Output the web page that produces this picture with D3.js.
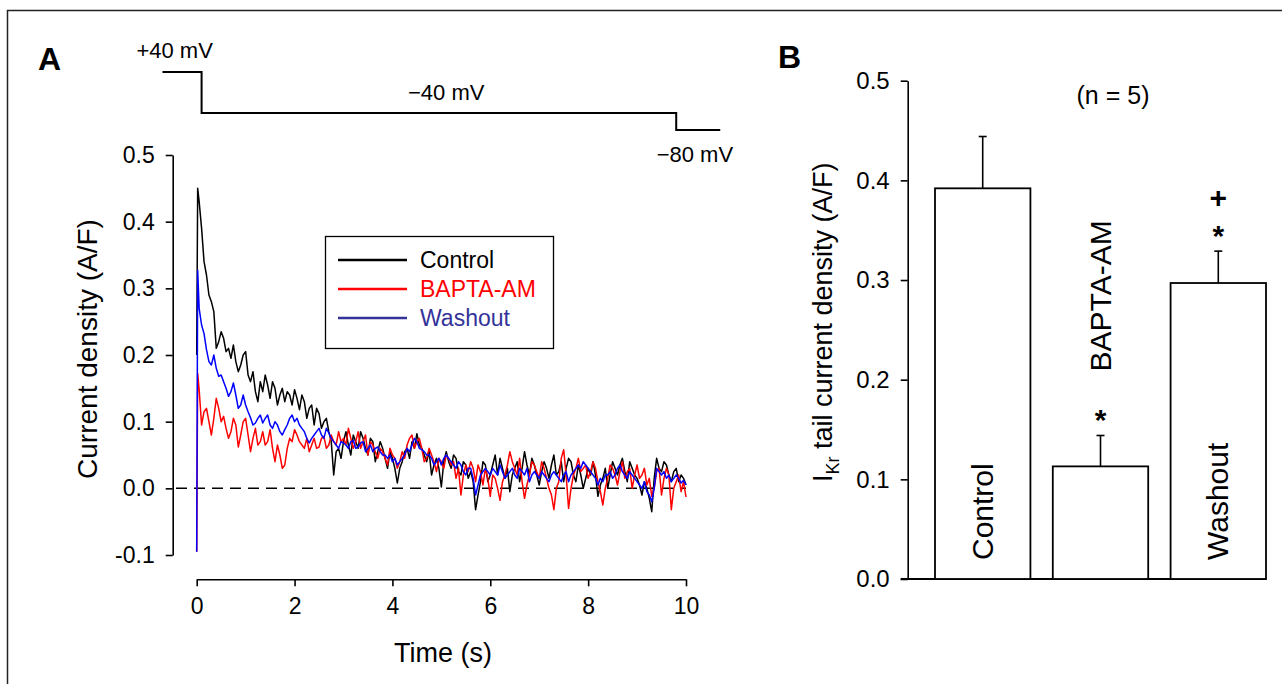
<!DOCTYPE html>
<html>
<head>
<meta charset="utf-8">
<script src="https://cdn.jsdelivr.net/npm/d3@7"></script>
<style>
  body { margin: 0; background: #fff; }
  text { font-family: "Liberation Sans", Arial, sans-serif; }
</style>
</head>
<body>
<svg id="fig" width="1282" height="684"></svg>
<script>
// ---- panel A: tail current traces ----
var traceTime = [0, 0.02, 0.05,
  0.1, 0.15, 0.2, 0.25, 0.3, 0.35, 0.4, 0.45, 0.5, 0.55, 0.6, 0.65, 0.7, 0.75, 0.8, 0.85, 0.9, 0.95, 1.0,
  1.05, 1.1, 1.15, 1.2, 1.25, 1.3, 1.35, 1.4, 1.45, 1.5, 1.55, 1.6, 1.65, 1.7, 1.75, 1.8, 1.85, 1.9, 1.95, 2.0,
  2.05, 2.1, 2.15, 2.2, 2.25, 2.3, 2.35, 2.4, 2.45, 2.5, 2.55, 2.6, 2.65, 2.7, 2.75, 2.8, 2.85, 2.9, 2.95, 3.0,
  3.05, 3.1, 3.15, 3.2, 3.25, 3.3, 3.35, 3.4, 3.45, 3.5, 3.55, 3.6, 3.65, 3.7, 3.75, 3.8, 3.85, 3.9, 3.95, 4.0,
  4.05, 4.1, 4.15, 4.2, 4.25, 4.3, 4.35, 4.4, 4.45, 4.5, 4.55, 4.6, 4.65, 4.7, 4.75, 4.8, 4.85, 4.9, 4.95, 5.0,
  5.05, 5.1, 5.15, 5.2, 5.25, 5.3, 5.35, 5.4, 5.45, 5.5, 5.55, 5.6, 5.65, 5.7, 5.75, 5.8, 5.85, 5.9, 5.95, 6.0,
  6.05, 6.1, 6.15, 6.2, 6.25, 6.3, 6.35, 6.4, 6.45, 6.5, 6.55, 6.6, 6.65, 6.7, 6.75, 6.8, 6.85, 6.9, 6.95, 7.0,
  7.05, 7.1, 7.15, 7.2, 7.25, 7.3, 7.35, 7.4, 7.45, 7.5, 7.55, 7.6, 7.65, 7.7, 7.75, 7.8, 7.85, 7.9, 7.95, 8.0,
  8.05, 8.1, 8.15, 8.2, 8.25, 8.3, 8.35, 8.4, 8.45, 8.5, 8.55, 8.6, 8.65, 8.7, 8.75, 8.8, 8.85, 8.9, 8.95, 9.0,
  9.05, 9.1, 9.15, 9.2, 9.25, 9.3, 9.35, 9.4, 9.45, 9.5, 9.55, 9.6, 9.65, 9.7, 9.75, 9.8, 9.85, 9.9, 9.95, 10.0]

var controlTrace = [0.20, 0.45, 0.43,
  0.39, 0.34, 0.32, 0.29, 0.28, 0.265, 0.21, 0.22, 0.235, 0.225, 0.205, 0.21, 0.195, 0.215, 0.19, 0.175, 0.185, 0.20, 0.205,
  0.17, 0.16, 0.175, 0.145, 0.13, 0.16, 0.145, 0.17, 0.155, 0.135, 0.16, 0.15, 0.125, 0.14, 0.15, 0.13, 0.145, 0.14, 0.125, 0.148,
  0.135, 0.118, 0.14, 0.13, 0.105, 0.12, 0.125, 0.095, 0.12, 0.112, 0.09, 0.10, 0.105, 0.085, 0.07, 0.02, 0.055, 0.06, 0.045, 0.07,
  0.085, 0.065, 0.05, 0.08, 0.07, 0.06, 0.085, 0.075, 0.06, 0.05, 0.075, 0.07, 0.04, 0.055, 0.07, 0.06, 0.045, 0.03, 0.055, 0.045,
  0.03, 0.008, 0.03, 0.04, 0.055, 0.06, 0.045, 0.07, 0.06, 0.082, 0.065, 0.06, 0.05, 0.04, 0.055, 0.02, 0.035, 0.045, 0.03, 0.002,
  0.04, 0.055, 0.04, 0.03, 0.05, 0.045, 0.025, 0.02, 0.04, 0.035, 0.015, 0.025, 0.01, -0.032, -0.01, 0.01, 0.04, 0.035, 0.01, 0.02,
  0.035, 0.05, 0.02, 0.045, 0.03, 0.015, 0.03, -0.005, 0.02, 0.03, 0.04, 0.01, 0.03, 0.055, 0.035, 0.02, 0.045, 0.035, 0.02, 0.005,
  0.025, 0.04, 0.03, 0.015, 0.035, 0.05, 0.02, 0.025, 0.04, 0.01, 0.03, 0.045, 0.04, 0.02, 0.01, 0.035, 0.02, 0.0, 0.015, 0.03,
  0.02, 0.04, 0.02, -0.012, 0.005, 0.015, 0.03, 0.0, 0.02, 0.04, 0.03, 0.02, 0.035, 0.045, 0.025, 0.01, 0.04, 0.03, 0.02, 0.015,
  0.005, -0.01, 0.01, 0.0, -0.015, -0.035, 0.015, 0.045, 0.03, 0.025, 0.04, 0.035, 0.02, 0.01, 0.025, 0.03, 0.01, 0.02, 0.015, 0.005]

var baptaTrace = [-0.095, 0.172, 0.148,
  0.095, 0.115, 0.12, 0.10, 0.08, 0.105, 0.135, 0.12, 0.10, 0.108, 0.09, 0.075, 0.085, 0.105, 0.095, 0.062, 0.08, 0.10, 0.105,
  0.08, 0.055, 0.075, 0.09, 0.065, 0.07, 0.085, 0.065, 0.07, 0.088, 0.06, 0.04, 0.065, 0.05, 0.03, 0.035, 0.06, 0.075, 0.07, 0.088,
  0.08, 0.07, 0.065, 0.06, 0.075, 0.055, 0.065, 0.075, 0.06, 0.062, 0.075, 0.078, 0.06, 0.065, 0.08, 0.07, 0.065, 0.085, 0.07, 0.075,
  0.065, 0.09, 0.075, 0.06, 0.07, 0.085, 0.06, 0.07, 0.08, 0.05, 0.07, 0.065, 0.055, 0.045, 0.06, 0.055, 0.045, 0.035, 0.06, 0.05,
  0.045, 0.03, 0.04, 0.055, 0.045, 0.065, 0.075, 0.08, 0.06, 0.07, 0.075, 0.06, 0.04, 0.045, 0.06, 0.05, 0.04, 0.025, 0.045, 0.04,
  0.03, 0.05, 0.045, 0.035, 0.04, 0.015, 0.03, -0.01, 0.02, 0.035, 0.025, 0.04, 0.03, 0.01, 0.035, 0.025, 0.005, 0.03, 0.015, -0.012,
  0.02, 0.015, 0.0, -0.018, 0.01, 0.02, 0.035, 0.055, 0.04, 0.03, 0.02, 0.045, 0.01, -0.015, 0.005, 0.02, 0.04, 0.035, 0.025, 0.015,
  0.04, 0.03, 0.015, 0.0, -0.01, -0.032, 0.0, 0.01, 0.045, 0.058, 0.02, -0.03, 0.0, 0.02, 0.03, 0.045, 0.025, 0.03, 0.035, 0.015,
  0.025, 0.04, 0.03, 0.01, -0.005, -0.025, 0.0, 0.015, 0.035, 0.03, 0.02, 0.005, 0.025, 0.04, 0.015, 0.025, 0.03, 0.0, 0.02, 0.035,
  0.015, 0.02, 0.03, 0.005, 0.015, -0.012, 0.0, 0.025, 0.03, -0.01, 0.015, 0.03, 0.02, -0.032, 0.0, 0.01, 0.02, -0.005, 0.01, -0.013]

var washoutTrace = [-0.095, 0.327, 0.27,
  0.245, 0.232, 0.208, 0.19, 0.185, 0.20, 0.18, 0.168, 0.17, 0.16, 0.15, 0.138, 0.145, 0.158, 0.14, 0.12, 0.125, 0.14, 0.125,
  0.115, 0.106, 0.095, 0.098, 0.105, 0.11, 0.098, 0.105, 0.11, 0.095, 0.09, 0.10, 0.095, 0.085, 0.08, 0.088, 0.095, 0.105, 0.11, 0.10,
  0.105, 0.095, 0.09, 0.085, 0.075, 0.068, 0.075, 0.08, 0.085, 0.09, 0.08, 0.075, 0.09, 0.083, 0.075, 0.07, 0.065, 0.06, 0.07, 0.068,
  0.065, 0.06, 0.07, 0.072, 0.06, 0.062, 0.068, 0.07, 0.055, 0.06, 0.065, 0.055, 0.06, 0.062, 0.055, 0.05, 0.05, 0.045, 0.05, 0.04,
  0.045, 0.035, 0.04, 0.045, 0.05, 0.06, 0.055, 0.065, 0.075, 0.07, 0.06, 0.058, 0.055, 0.05, 0.05, 0.045, 0.035, 0.04, 0.045, 0.035,
  0.045, 0.05, 0.045, 0.04, 0.035, 0.03, 0.04, 0.035, 0.025, 0.02, 0.03, 0.03, 0.015, -0.01, 0.005, 0.02, 0.025, 0.03, 0.025, 0.02,
  0.03, 0.025, 0.02, 0.035, 0.025, 0.015, 0.02, 0.025, 0.03, 0.02, 0.015, 0.03, 0.025, 0.02, 0.03, 0.01, 0.02, 0.025, 0.02, 0.015,
  0.025, 0.02, 0.015, 0.01, 0.02, 0.025, 0.02, 0.015, 0.01, 0.02, 0.025, 0.01, 0.02, 0.025, 0.03, 0.035, 0.03, 0.04, 0.035, 0.03,
  0.025, 0.02, 0.015, 0.005, 0.015, 0.01, 0.02, 0.02, 0.025, 0.015, 0.02, 0.03, 0.035, 0.025, 0.02, 0.015, 0.025, 0.02, 0.015, 0.01,
  0.005, 0.0, 0.01, -0.005, -0.01, -0.02, 0.0, 0.03, 0.025, 0.02, 0.025, 0.015, 0.02, 0.01, 0.015, 0.02, 0.015, 0.008, 0.012, 0.005]

var traceNames = ["Control", "BAPTA-AM", "Washout"]
var traceColors = ["#000000", "#ff0000", "#0000ff"]
var legendColors = ["#000000", "#ff0000", "#333399"]

// voltage protocol (schematic)
var protocolTime = [-0.7, 0.1, 0.1, 9.8, 9.8, 10.7]
var protocolVolt = [40, 40, -40, -40, -80, -80]

var timeTicks = [0, 2, 4, 6, 8, 10]
var densityTicks = [-0.1, 0, 0.1, 0.2, 0.3, 0.4, 0.5]

// ---- panel B: bar chart ----
var groups = ["Control", "BAPTA-AM", "Washout"]
var means = [0.392, 0.113, 0.297]
var sems = [0.052, 0.031, 0.032]
var marks = [[], ["*"], ["*", "+"]]
var barTicks = [0.0, 0.1, 0.2, 0.3, 0.4, 0.5]

var svg = d3.select("#fig")

// frame
svg.append("rect")
  .attr("x", 7.5).attr("y", 10.5).attr("width", 1300).attr("height", 700)
  .attr("fill", "none").attr("stroke", "#222").attr("stroke-width", 1.5)

var fmt = d => d.toFixed(1)

// ================= Panel A =================
var x = d3.scaleLinear().domain([0, 10]).range([196.7, 686])
var y = d3.scaleLinear().domain([-0.1, 0.5]).range([555, 155])

svg.append("text").attr("x", 38).attr("y", 70)
  .style("font-size", "32px").style("font-weight", "bold").text("A")

// y axis
var yAxA = svg.append("g").attr("transform", "translate(172.7,0)")
  .call(d3.axisLeft(y).tickValues(densityTicks).tickFormat(fmt).tickSize(7).tickSizeOuter(0).tickPadding(11))
yAxA.select(".domain").attr("stroke-width", 1.6)
yAxA.selectAll(".tick line").attr("stroke-width", 1.6)
yAxA.selectAll("text").style("font-size", "23px").attr("fill", "#000")

// x axis
var xAxA = svg.append("g").attr("transform", "translate(0,579.3)")
  .call(d3.axisBottom(x).tickValues(timeTicks).tickSize(7).tickSizeOuter(0).tickPadding(11))
xAxA.select(".domain").attr("stroke-width", 1.6)
xAxA.selectAll(".tick line").attr("stroke-width", 1.6)
xAxA.selectAll("text").style("font-size", "23px").attr("fill", "#000")

svg.append("text").attr("x", 443).attr("y", 662).attr("text-anchor", "middle")
  .style("font-size", "27px").text("Time (s)")
svg.append("text").attr("transform", "translate(97,349) rotate(-90)").attr("text-anchor", "middle")
  .style("font-size", "28px").text("Current density (A/F)")

// zero line
svg.append("line")
  .attr("x1", 176).attr("x2", x(10)).attr("y1", y(0)).attr("y2", y(0))
  .attr("stroke", "#000").attr("stroke-width", 1.5).attr("stroke-dasharray", "11,7")

// traces
var traces = [controlTrace, baptaTrace, washoutTrace]
var line = d3.line().x((d, i) => x(traceTime[i])).y(d => y(d))
svg.append("g").selectAll("path")
  .data(traces)
  .enter().append("path")
  .attr("d", d => line(d))
  .attr("fill", "none")
  .attr("stroke", (d, i) => traceColors[i])
  .attr("stroke-width", 1.5)
  .attr("stroke-linejoin", "round")

// voltage protocol
var vy = d3.scaleLinear().domain([-80, -40, 40]).range([130, 113, 72])
var protoLine = d3.line().x((d, i) => x(protocolTime[i])).y(d => vy(d))
svg.append("path")
  .attr("d", protoLine(protocolVolt))
  .attr("fill", "none").attr("stroke", "#000").attr("stroke-width", 2)
svg.append("text").attr("x", x(-0.7) - 26).attr("y", 58)
  .style("font-size", "22px").text("+40 mV")
svg.append("text").attr("x", x(5.1)).attr("y", 100).attr("text-anchor", "middle")
  .style("font-size", "22px").text("\u221240 mV")
svg.append("text").attr("x", x(9.4)).attr("y", 162)
  .style("font-size", "22px").text("\u221280 mV")

// legend
var legend = svg.append("g")
legend.append("rect").attr("x", 325.5).attr("y", 236.5).attr("width", 228).attr("height", 112)
  .attr("fill", "#fff").attr("stroke", "#000").attr("stroke-width", 1.3)
traceNames.forEach(function(name, i) {
  var ly = 260 + i * 29
  legend.append("line").attr("x1", 338).attr("x2", 407).attr("y1", ly).attr("y2", ly)
    .attr("stroke", legendColors[i]).attr("stroke-width", 2.7)
  legend.append("text").attr("x", 420).attr("y", ly + 8)
    .style("font-size", "23px").attr("fill", legendColors[i]).text(name)
})

// ================= Panel B =================
var xb = d3.scaleBand().domain(groups).range([935, 1266]).paddingInner(0.19).paddingOuter(0)
var yb = d3.scaleLinear().domain([0, 0.5]).range([579, 80.7])

svg.append("text").attr("x", 778).attr("y", 68)
  .style("font-size", "32px").style("font-weight", "bold").text("B")

var yAxB = svg.append("g").attr("transform", "translate(907.7,0)")
  .call(d3.axisLeft(yb).tickValues(barTicks).tickFormat(fmt).tickSize(7).tickSizeOuter(0).tickPadding(11))
yAxB.select(".domain").attr("stroke-width", 1.6)
yAxB.selectAll(".tick line").attr("stroke-width", 1.6)
yAxB.selectAll("text").style("font-size", "24px").attr("fill", "#000")

// baseline
svg.append("line").attr("x1", 900.7).attr("x2", 1266).attr("y1", yb(0)).attr("y2", yb(0))
  .attr("stroke", "#000").attr("stroke-width", 1.8)

var title = svg.append("text").attr("transform", "translate(832,482) rotate(-90)")
  .style("font-size", "27px")
title.append("tspan").text("I")
title.append("tspan").attr("dy", 7).style("font-size", "18px").text("Kr")
title.append("tspan").attr("dy", -7).text(" tail current density (A/F)")

svg.append("text").attr("x", 1113).attr("y", 104).attr("text-anchor", "middle")
  .style("font-size", "25px").text("(n = 5)")

var bars = svg.append("g").selectAll("g").data(groups).enter().append("g")
bars.append("rect")
  .attr("x", d => xb(d)).attr("width", xb.bandwidth())
  .attr("y", (d, i) => yb(means[i])).attr("height", (d, i) => yb(0) - yb(means[i]))
  .attr("fill", "#fff").attr("stroke", "#000").attr("stroke-width", 1.8)
bars.append("line")
  .attr("x1", d => xb(d) + xb.bandwidth() / 2).attr("x2", d => xb(d) + xb.bandwidth() / 2)
  .attr("y1", (d, i) => yb(means[i])).attr("y2", (d, i) => yb(means[i] + sems[i]))
  .attr("stroke", "#000").attr("stroke-width", 1.6)
bars.append("line")
  .attr("x1", d => xb(d) + xb.bandwidth() / 2 - 4).attr("x2", d => xb(d) + xb.bandwidth() / 2 + 4)
  .attr("y1", (d, i) => yb(means[i] + sems[i])).attr("y2", (d, i) => yb(means[i] + sems[i]))
  .attr("stroke", "#000").attr("stroke-width", 1.6)

// group labels (rotated): inside tall bars, above the short one
bars.append("text")
  .attr("transform", function(d, i) {
    var cx = xb(d) + xb.bandwidth() / 2 + 10
    var start = means[i] > 0.2 ? yb(0) - 19 : yb(means[i] + sems[i]) - 64
    return "translate(" + cx + "," + start + ") rotate(-90)"
  })
  .style("font-size", "30px").text(d => d)

// significance marks
bars.each(function(d, i) {
  var g = d3.select(this)
  marks[i].forEach(function(m, k) {
    var top = yb(means[i] + sems[i])
    g.append("text")
      .attr("x", xb(d) + xb.bandwidth() / 2).attr("text-anchor", "middle")
      .attr("y", m === "*" ? top - 5 : top - 43)
      .style("font-size", "30px").style("font-weight", "bold").text(m)
  })
})
</script>
</body>
</html>
